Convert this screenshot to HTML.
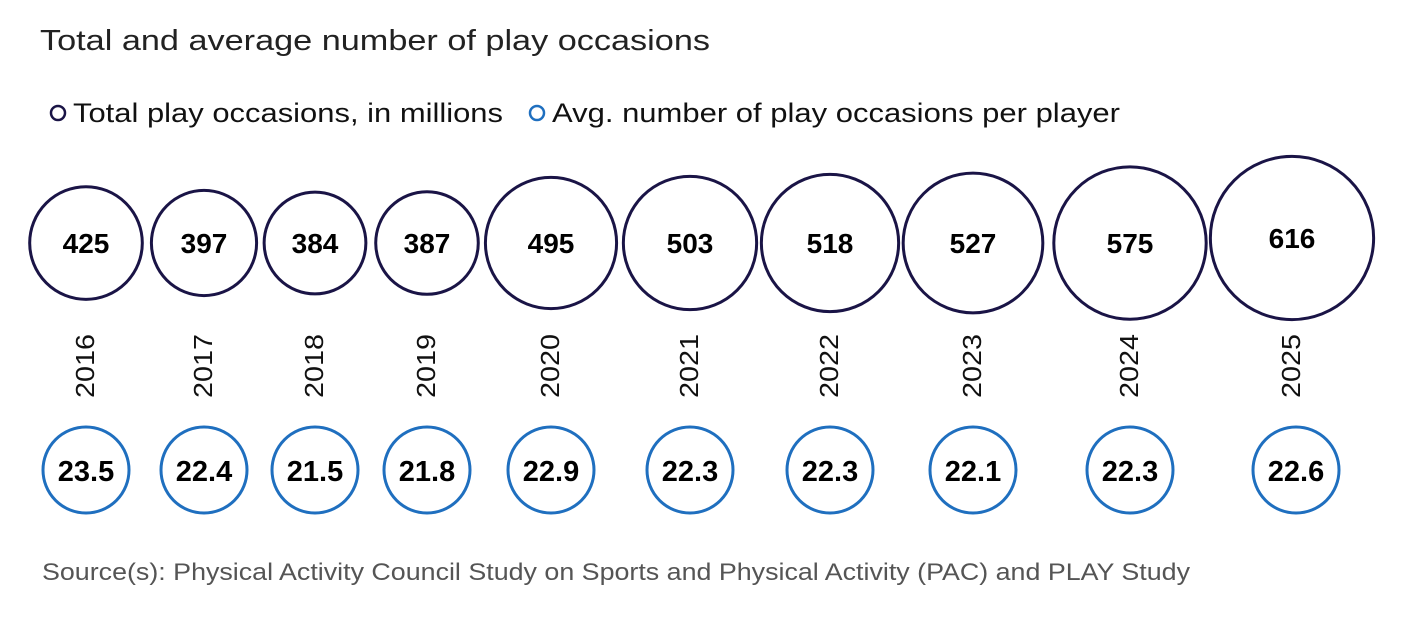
<!DOCTYPE html>
<html><head><meta charset="utf-8"><style>
body{margin:0;background:#fff;width:1414px;height:622px;overflow:hidden;font-family:"Liberation Sans",sans-serif}
svg{display:block}
</style></head><body>
<svg id="chart" width="1414" height="622">
<text x="40" y="50" font-size="29" fill="#222" textLength="670" lengthAdjust="spacingAndGlyphs">Total and average number of play occasions</text>
<g>
<circle cx="58" cy="113" r="7" fill="none" stroke="#1a1446" stroke-width="2.5"/>
<text x="73" y="122" font-size="27" fill="#111" textLength="430" lengthAdjust="spacingAndGlyphs">Total play occasions, in millions</text>
<circle cx="537" cy="113" r="7" fill="none" stroke="#1f6fbf" stroke-width="2.5"/>
<text x="552" y="122" font-size="27" fill="#111" textLength="568" lengthAdjust="spacingAndGlyphs">Avg. number of play occasions per player</text>
</g>
<g id="marks"></g>
<text x="42" y="580" font-size="24" fill="#555" textLength="1148" lengthAdjust="spacingAndGlyphs">Source(s): Physical Activity Council Study on Sports and Physical Activity (PAC) and PLAY Study</text>
</svg>
<script>
const years=["2016","2017","2018","2019","2020","2021","2022","2023","2024","2025"];
const totals=[425,397,384,387,495,503,518,527,575,616];
const avgs=["23.5","22.4","21.5","21.8","22.9","22.3","22.3","22.1","22.3","22.6"];
const xCenters=[86,204,315,427,551,690,830,973,1130,1292];
const NS="http://www.w3.org/2000/svg";
const g=document.getElementById('marks');
function rScale(v){return v*0.1325;}
function mk(tag,attrs){const e=document.createElementNS(NS,tag);for(const k in attrs)e.setAttribute(k,attrs[k]);g.appendChild(e);return e;}
years.forEach((y,i)=>{
  const x=xCenters[i];
  const cy=i===9?238:243;
  const c=mk('circle',{cx:x,cy:cy,r:rScale(totals[i]),fill:'none',stroke:'#1a1446','stroke-width':3});
  
  
  const t=mk('text',{x:x,y:cy+10,'text-anchor':'middle','font-size':28,'font-weight':'bold',fill:'#000'});
  t.textContent=totals[i];
  
  
  const yl=mk('text',{x:0,y:0,'text-anchor':'middle','font-size':26,fill:'#111',textLength:64,lengthAdjust:'spacingAndGlyphs',transform:'translate('+(x+8)+',366) rotate(-90)'});
  yl.textContent=y;
  
  
  const bx=i===9?1296:x;
  const b=mk('circle',{cx:bx,cy:470,r:43,fill:'none',stroke:'#1f6fbf','stroke-width':3});
  
  
  const bt=mk('text',{x:bx,y:481,'text-anchor':'middle','font-size':29,'font-weight':'bold',fill:'#000'});
  bt.textContent=avgs[i];
  
  
});
</script>
</body></html>
